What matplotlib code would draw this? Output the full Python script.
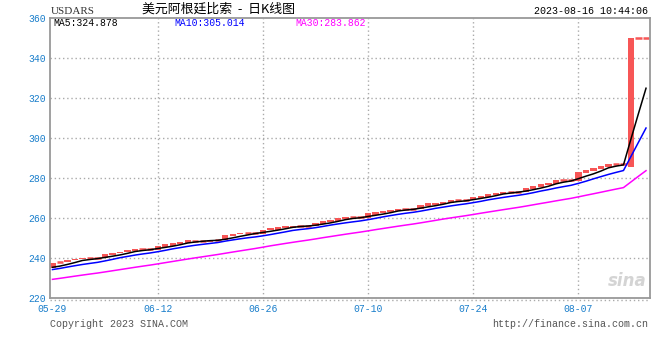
import numpy as np
import pandas as pd
import matplotlib
matplotlib.use("Agg")
import matplotlib.pyplot as plt

# closes before the window (04-30 .. 05-28), only used for the moving averages
prior_close = [222.5, 222.5, 223.2, 223.9, 224.5, 225.1, 225.1, 225.1, 225.9, 226.5,
               227.1, 227.8, 228.4, 228.4, 228.4, 229.3, 230.0, 230.6, 231.3, 232.0,
               232.0, 232.0, 233.0, 233.8, 234.6, 234.8, 234.8, 234.8, 234.8]

# daily candles 05-29 .. 08-16
opens = [234.8, 237.5, 237.8, 238.8, 239.3, 240.0, 240.0, 240.0, 241.6, 242.3,
         242.8, 243.7, 244.5, 244.5, 244.2, 245.5, 246.0, 247.0, 247.6, 248.7,
         248.7, 248.2, 249.0, 248.8, 251.2, 251.8, 252.5, 252.5, 252.0, 253.8,
         254.2, 254.9, 255.2, 256.2, 256.2, 256.0, 257.2, 258.2, 258.7, 259.5,
         260.5, 260.5, 260.2, 261.5, 262.5, 263.0, 263.5, 264.7, 264.7, 264.3,
         266.0, 266.7, 267.0, 267.7, 269.0, 269.0, 269.0, 270.2, 270.7, 271.7,
         272.2, 273.2, 273.2, 273.0, 274.7, 275.5, 276.7, 277.2, 279.2, 279.2,
         278.7, 282.7, 283.7, 284.7, 285.7, 287.2, 287.2, 285.7, 350.0, 350.0]
closes = [237.6, 237.8, 239.0, 239.5, 240.0, 240.0, 240.0, 242.0, 242.5, 243.2,
          244.0, 244.5, 244.5, 244.5, 246.2, 246.8, 247.5, 248.2, 248.8, 248.7,
          248.7, 249.0, 249.0, 251.5, 252.2, 252.5, 252.5, 252.5, 254.2, 255.0,
          255.5, 255.8, 256.2, 256.2, 256.2, 257.5, 258.7, 259.2, 260.0, 260.5,
          260.5, 260.5, 262.3, 263.0, 263.5, 264.0, 264.7, 264.7, 264.7, 266.5,
          267.3, 267.7, 268.2, 269.0, 269.0, 269.0, 270.7, 271.2, 272.2, 272.7,
          273.2, 273.2, 273.2, 275.0, 276.2, 277.2, 277.7, 279.2, 279.2, 279.2,
          283.0, 284.0, 285.0, 286.2, 287.2, 287.2, 287.2, 350.0, 350.0, 350.0]

tick_labels = ["05-29", "06-12", "06-26", "07-10", "07-24", "08-07"]
tick_pos = [0, 14, 28, 42, 56, 70]
y_ticks = [220, 240, 260, 280, 300, 320, 340, 360]

ma_names = ["MA5", "MA10", "MA30"]
ma_windows = [5, 10, 30]
ma_values = [324.878, 305.014, 283.862]
ma_colors = ["black", "#0000ff", "#ff00ff"]

RED = "#f75656"
BLUE = "#1a7ecb"
MONO = "Liberation Mono"

n = len(closes)
idx = np.arange(n)
all_close = pd.Series(prior_close + closes)

fig = plt.figure(figsize=(6.6, 3.6), dpi=100)
ax = fig.add_axes([50 / 660, 62 / 360, 600 / 660, 280 / 360])

# grid
for y in y_ticks[1:-1]:
    ax.axhline(y, color="#aaaaaa", lw=1, ls=(0, (1, 2)), zorder=0)
for p in tick_pos[1:]:
    ax.axvline(p, color="#aaaaaa", lw=1, ls=(0, (1, 2)), zorder=0)

# moving averages
for name, w, col in zip(ma_names, ma_windows, ma_colors):
    ma = all_close.rolling(w).mean().values[len(prior_close):]
    ax.plot(idx, ma, color=col, lw=1.1, zorder=3)

# candles
for i in range(n):
    o, c = opens[i], closes[i]
    if abs(c - o) < 0.4:
        ax.hlines(c, i - 0.42, i + 0.42, color=RED, lw=1.8, zorder=2)
    else:
        ax.bar(i, c - o, bottom=o, width=0.84, color=RED, lw=0, zorder=2)

ax.set_xlim(-0.33, 79.53)
ax.set_ylim(220, 360)
ax.set_xticks(tick_pos)
ax.set_xticklabels(tick_labels)
ax.set_yticks(y_ticks)
ax.tick_params(length=0, labelsize=7, labelcolor=BLUE, pad=4)
ax.tick_params(axis="y", pad=3)
for lab in ax.get_xticklabels() + ax.get_yticklabels():
    lab.set_family(MONO)
for s in ax.spines.values():
    s.set_color("#999999")
    s.set_linewidth(1.3)

# dotted line under the axis
ax.axhline(218.8, color="#aaaaaa", lw=1, ls=(0, (1, 2)), clip_on=False)

# MA legend inside the plot
ma_x = [53, 174, 295]
for name, v, col, x in zip(ma_names, ma_values, ma_colors, ma_x):
    fig.text(x / 660, 1 - 23.5 / 360, f"{name}:{v:.3f}", color=col,
             family=MONO, fontsize=7, va="center")

# header texts
fig.text(51 / 660, 1 - 11.5 / 360, "USDARS", color="#333333",
         family="Liberation Serif", fontsize=8, va="center")
fig.text(218 / 660, 1 - 9 / 360, "美元阿根廷比索  -  日K线图", color="black",
         family=["Noto Sans CJK SC", "DejaVu Sans"], fontsize=9.3,
         ha="center", va="center")
fig.text(648 / 660, 1 - 11.5 / 360, "2023-08-16 10:44:06", color="black",
         family=MONO, fontsize=7.2, ha="right", va="center")

# footer
fig.text(50 / 660, 1 - 324 / 360, "Copyright 2023 SINA.COM", color="#555555",
         family=MONO, fontsize=7.2, va="center")
fig.text(648 / 660, 1 - 324 / 360, "http://finance.sina.com.cn", color="#555555",
         family=MONO, fontsize=7.2, ha="right", va="center")

# watermark
ax.text(0.995, 0.03, "sina", transform=ax.transAxes, color="#d4d4d4",
        fontsize=12, style="italic", weight="bold", ha="right", va="bottom")

fig.savefig("out.png", dpi=100)
